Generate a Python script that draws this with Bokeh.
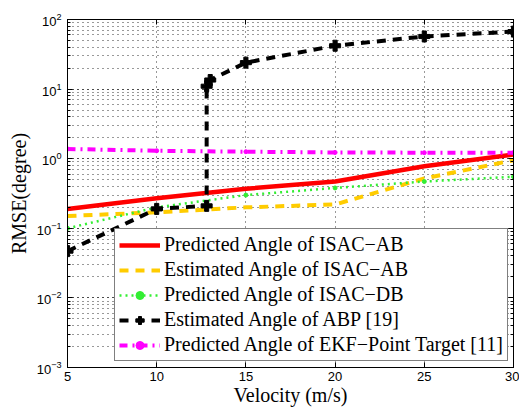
from bokeh.plotting import figure
from bokeh.models import (Range1d, LogAxis, LinearAxis, FixedTicker, LogTicker,
                          Legend, LegendItem, CustomJSTickFormatter)
from bokeh.embed import file_html
from bokeh.resources import INLINE

# RMSE of the angle estimate versus target velocity
velocity = [5, 10, 15, 20, 25, 30]
pred_isac_ab = [0.19, 0.27, 0.37, 0.47, 0.78, 1.15]
est_isac_ab = [0.15, 0.17, 0.20, 0.22, 0.52, 0.95]
pred_isac_db = [0.10, 0.20, 0.30, 0.38, 0.47, 0.55]
ekf_point = [1.38, 1.30, 1.26, 1.23, 1.22, 1.22]

abp_velocity = [5, 10, 12.8, 12.8, 13, 15, 20, 25, 30]
abp_est = [0.047, 0.19, 0.21, 11, 13.5, 24, 42, 57, 67]

x_ticks = [5, 10, 15, 20, 25, 30]

SERIF = "Liberation Serif"
SANS = "Liberation Sans"

p = figure(width=519, height=408, y_axis_type="log",
           x_range=Range1d(5, 30), y_range=Range1d(1e-3, 1e2),
           output_backend="svg", toolbar_location=None)
p.min_border_left = 67
p.min_border_right = 6
p.min_border_top = 19
p.min_border_bottom = 40
p.outline_line_color = "black"
p.outline_line_width = 1
p.background_fill_color = "white"
p.border_fill_color = "white"

# grids: dotted major on both axes, dotted minor on the log axis
for g in (p.xgrid, p.ygrid):
    g.grid_line_color = "#333333"
    g.grid_line_dash = "1 4"
    g.grid_line_width = 1
p.ygrid.minor_grid_line_color = "#333333"
p.ygrid.minor_grid_line_dash = "1 4"
p.ygrid.minor_grid_line_width = 1

xa = p.xaxis[0]
xa.ticker = FixedTicker(ticks=x_ticks)
ya = p.yaxis[0]
ya.ticker = LogTicker(num_minor_ticks=10)
for ax in (xa, ya):
    ax.major_tick_in = 5
    ax.major_tick_out = 0
    ax.minor_tick_in = 3
    ax.minor_tick_out = 0
    ax.axis_line_color = "black"
    ax.major_label_text_font = SANS
    ax.major_label_text_font_size = "13px"
    ax.major_label_text_color = "black"
    ax.axis_label_text_font = SERIF
    ax.axis_label_text_font_size = "20px"
    ax.axis_label_text_font_style = "normal"
    ax.axis_label_text_color = "black"
xa.minor_tick_line_color = None
xa.axis_label = "Velocity (m/s)"
xa.major_label_standoff = 4
xa.axis_label_standoff = 0
ya.axis_label = "RMSE(degree)"
ya.major_label_standoff = 6
ya.axis_label_standoff = 4

# mirrored ticks on the top and right edges, without labels
blank = CustomJSTickFormatter(code="return ''")
top = LinearAxis(ticker=FixedTicker(ticks=x_ticks), formatter=blank,
                 major_tick_in=5, major_tick_out=0, minor_tick_line_color=None,
                 major_label_standoff=0, axis_line_color="black")
right = LogAxis(ticker=LogTicker(num_minor_ticks=10), formatter=blank,
                major_tick_in=5, major_tick_out=0, minor_tick_in=3, minor_tick_out=0,
                major_label_standoff=0, axis_line_color="black")
p.add_layout(top, "above")
p.add_layout(right, "right")

r_red = p.line(velocity, pred_isac_ab, line_color="#ff0000", line_width=4.5)
r_yel = p.line(velocity, est_isac_ab, line_color="#ffcc00", line_width=4, line_dash="9 7")
r_grn = p.line(velocity, pred_isac_db, line_color="#33ee33", line_width=2.5, line_dash="2 4")
r_grn_m = p.scatter(velocity, pred_isac_db, marker="circle", size=4,
                    fill_color="#33ee33", line_color="#33ee33")
r_blk = p.line(abp_velocity, abp_est, line_color="black", line_width=4, line_dash="9 7")
r_blk_m = p.scatter(abp_velocity, abp_est, marker="plus", size=11,
                    fill_color="black", line_color="black")
r_mag = p.line(velocity, ekf_point, line_color="#ff00ff", line_width=4, line_dash="8 5 2 5")
r_mag_m = p.scatter(velocity, ekf_point, marker="circle", size=4,
                    fill_color="#ff00ff", line_color="#ff00ff")

legend = Legend(items=[
    LegendItem(label="Predicted Angle of ISAC\u2212AB", renderers=[r_red]),
    LegendItem(label="Estimated Angle of ISAC\u2212AB", renderers=[r_yel]),
    LegendItem(label="Predicted Angle of ISAC\u2212DB", renderers=[r_grn, r_grn_m]),
    LegendItem(label="Estimated Angle of ABP [19]", renderers=[r_blk, r_blk_m]),
    LegendItem(label="Predicted Angle of EKF\u2212Point Target [11]", renderers=[r_mag, r_mag_m]),
], location=(47, 6))
legend.label_text_font = SERIF
legend.label_text_font_size = "20px"
legend.label_text_color = "black"
legend.glyph_width = 41
legend.glyph_height = 20
legend.label_height = 20
legend.label_standoff = 4
legend.spacing = 2
legend.padding = 4
legend.margin = 0
legend.border_line_color = "black"
legend.border_line_width = 1
legend.background_fill_color = "white"
legend.background_fill_alpha = 1
p.add_layout(legend, "center")

open("out.html", "w").write(file_html(p, INLINE))
